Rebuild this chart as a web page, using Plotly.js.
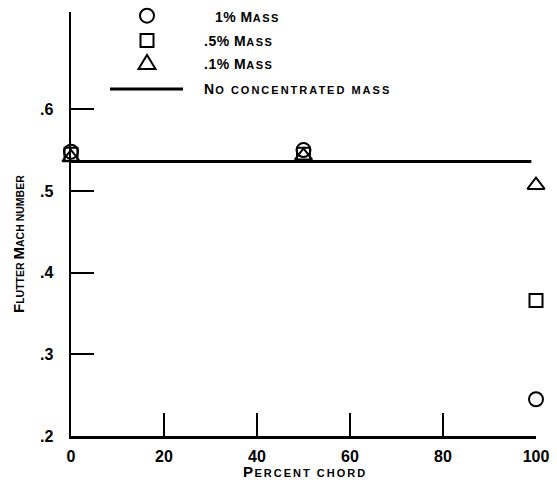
<!DOCTYPE html>
<html>
<head>
<meta charset="utf-8">
<script src="https://cdn.plot.ly/plotly-3.0.1.min.js"></script>
<style>html,body{margin:0;padding:0;background:#fff;}</style>
</head>
<body>
<div id="chart" style="width:557px;height:494px;"></div>
<script>
// Data
const chord = [0, 50, 100];
const mass1 = [0.548, 0.550, 0.245];
const mass05 = [0.545, 0.545, 0.366];
const mass01 = [0.541, 0.543, 0.507];
const noMassX = [0, 99];
const noMassY = [0.536, 0.536];
const xTickVals = [0, 20, 40, 60, 80, 100];
const xTickText = ['0', '20', '40', '60', '80', '100'];
const yTickVals = [0.2, 0.3, 0.4, 0.5, 0.6];
const yTickText = ['.2', '.3', '.4', '.5', '.6'];

const FONT = 'Liberation Sans, Arial, sans-serif';
const L = 71, R = 536, T = 12, B = 436;
const px = x => (x - L) / (R - L);
const py = y => (B - y) / (B - T);
// small-caps helper: a run of text at a given size with letter spacing
const run = (s, size, ls) => "<span style='font-size:" + size + "px;letter-spacing:" + ls + "px'>" + s + "</span>";

const traces = [
  {x: noMassX, y: noMassY, mode: 'lines', line: {color: '#000', width: 3}, cliponaxis: false, showlegend: false},
  {x: chord, y: mass1, mode: 'markers', marker: {symbol: 'circle-open', size: 14, color: '#000', line: {width: 2, color: '#000'}}, cliponaxis: false, showlegend: false},
  {x: chord, y: mass05, mode: 'markers', marker: {symbol: 'square-open', size: 13, color: '#000', line: {width: 2, color: '#000'}}, cliponaxis: false, showlegend: false},
  {x: chord, y: mass01, mode: 'markers', marker: {symbol: 'triangle-up-open', size: 15, color: '#000', line: {width: 2, color: '#000'}}, cliponaxis: false, showlegend: false}
];

const shapes = [
  {type: 'circle', xref: 'paper', yref: 'paper', xsizemode: 'pixel', ysizemode: 'pixel',
   xanchor: px(147), yanchor: py(15.7), x0: -7, x1: 7, y0: -7, y1: 7, line: {color: '#000', width: 2}},
  {type: 'rect', xref: 'paper', yref: 'paper', xsizemode: 'pixel', ysizemode: 'pixel',
   xanchor: px(147), yanchor: py(40.5), x0: -6.5, x1: 6.5, y0: -6.5, y1: 6.5, line: {color: '#000', width: 2}},
  {type: 'path', xref: 'paper', yref: 'paper', xsizemode: 'pixel', ysizemode: 'pixel',
   xanchor: px(147), yanchor: py(63), path: 'M -8.5 -6 L 8.5 -6 L 0 8 Z', line: {color: '#000', width: 2}},
  {type: 'line', xref: 'paper', yref: 'paper', x0: px(110), x1: px(183), y0: py(89), y1: py(89), line: {color: '#000', width: 3}}
];

const ann = (x, y, text, opts) => Object.assign({xref: 'paper', yref: 'paper', x: px(x), y: py(y), text: text,
  showarrow: false, xanchor: 'left', yanchor: 'middle', font: {family: FONT, size: 14, color: '#000', weight: 'bold'}}, opts || {});

const annotations = [
  ann(213, 17, run('1% M', 14, 0.5) + run('ASS', 11, 1.5)),
  ann(202, 41, run('.5% M', 14, 0.5) + run('ASS', 11, 1.5)),
  ann(202, 64, run('.1% M', 14, 0.5) + run('ASS', 11, 1.5)),
  ann(202, 89, run('N', 14, 1.2) + run('O CONCENTRATED MASS', 11, 2)),
  ann(305, 471, run('P', 15, 1.5) + run('ERCENT CHORD', 11, 2), {xanchor: 'center'}),
  ann(18, 244, run('F', 15, 0) + run('LUTTER ', 10.5, 0) + run('M', 15, 0) + run('ACH NUMBER', 10.5, 0), {xanchor: 'center', textangle: -90})
];

const layout = {
  width: 557, height: 494,
  margin: {l: L, r: 557 - R, t: T, b: 494 - B},
  paper_bgcolor: '#fff', plot_bgcolor: '#fff',
  showlegend: false,
  font: {family: FONT, color: '#000', size: 16, weight: 'bold'},
  xaxis: {range: [0, 100], tickvals: xTickVals, ticktext: xTickText, ticks: 'inside', ticklen: 23, tickwidth: 2,
    tickcolor: '#000', showline: true, linewidth: 2.5, linecolor: '#000', showgrid: false, zeroline: false,
    ticklabelstandoff: 4, tickfont: {family: FONT, size: 16, weight: 'bold'}},
  yaxis: {range: [0.2, 0.719], tickvals: yTickVals, ticktext: yTickText, ticks: 'inside', ticklen: 23, tickwidth: 2,
    tickcolor: '#000', showline: true, linewidth: 2.5, linecolor: '#000', showgrid: false, zeroline: false,
    ticklabelstandoff: 12, tickfont: {family: FONT, size: 16, weight: 'bold'}},
  shapes: shapes,
  annotations: annotations
};

Plotly.newPlot('chart', traces, layout, {staticPlot: true, displayModeBar: false});
</script>
</body>
</html>
